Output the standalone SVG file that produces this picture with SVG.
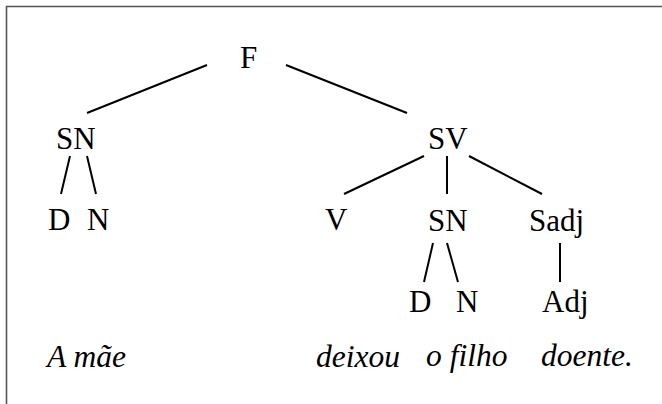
<svg xmlns="http://www.w3.org/2000/svg" width="662" height="404" viewBox="0 0 662 404">
<style>
text{font-family:'Liberation Serif','Times New Roman',serif;font-size:31px;fill:#000}
.i{font-style:italic;font-size:31.5px}
.e{stroke:#000;stroke-width:2;fill:none}
</style>
<rect width="662" height="404" fill="#fff"/>
<path d="M6.5,404 V6.5 H662" fill="none" stroke="#555" stroke-width="1.6"/>
<g id="connectors" class="e">
<line x1="207" y1="65" x2="87" y2="113"/>
<line x1="286" y1="65" x2="407" y2="113"/>
<line x1="70" y1="156" x2="61" y2="194"/>
<line x1="87" y1="156" x2="96" y2="194"/>
<line x1="424" y1="156" x2="344" y2="194"/>
<line x1="447" y1="156" x2="447" y2="194"/>
<line x1="469" y1="156" x2="542" y2="194"/>
<line x1="433" y1="243" x2="424" y2="282"/>
<line x1="447" y1="243" x2="458" y2="282"/>
<line x1="560" y1="243" x2="560" y2="282"/>
</g>
<g id="F"><text x="240" y="68">F</text></g>
<g id="SN1"><text x="56" y="149">SN</text></g>
<g id="SV"><text x="428" y="149">SV</text></g>
<g id="D1"><text x="48" y="230">D</text></g>
<g id="N1"><text x="87" y="230">N</text></g>
<g id="V"><text x="325" y="230">V</text></g>
<g id="SN2"><text x="428" y="231">SN</text></g>
<g id="Sadj"><text x="529" y="231">Sadj</text></g>
<g id="D2"><text x="409" y="312">D</text></g>
<g id="N2"><text x="456" y="312">N</text></g>
<g id="Adj"><text x="542" y="312">Adj</text></g>
<g id="words">
<text class="i" x="47" y="367">A mãe</text>
<text class="i" x="316" y="367">deixou</text>
<text class="i" x="426" y="366">o filho</text>
<text class="i" x="541" y="366">doente.</text>
</g>
</svg>
